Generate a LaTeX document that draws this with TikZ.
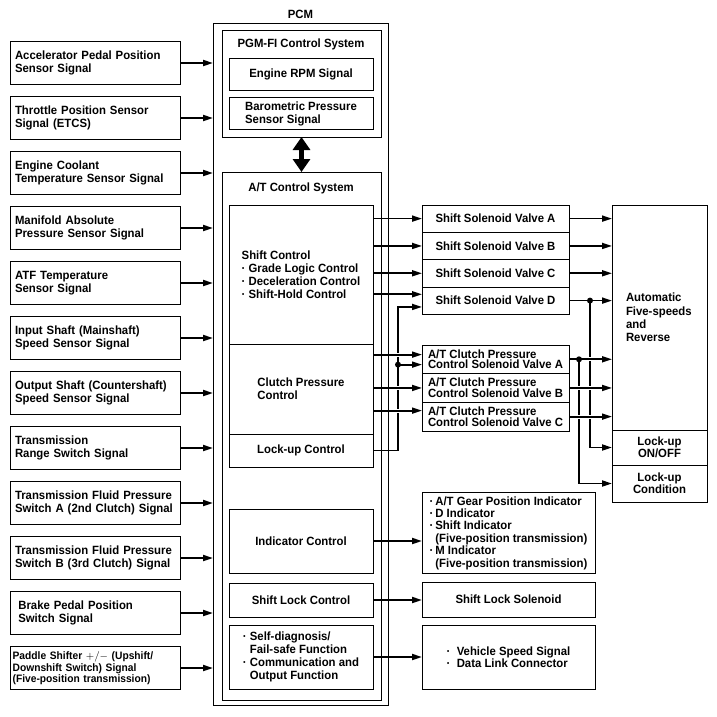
\documentclass[tikz,border=0pt]{standalone}
\usepackage{fontspec}
\setmainfont{Liberation Sans}[FakeStretch=0.95]
\usepackage{tikz}
\usetikzlibrary{arrows.meta, positioning}
\tikzset{
	sensor/.style={
		rectangle,
		minimum width=51mm,
		minimum height=12.9mm,
		text width=48mm,
		inner xsep=1.5mm,
		align=left,
		draw=black,
		line width=0.6pt,
		outer sep=0pt,
		font=\bfseries\fontsize{10.2}{11.2}\selectfont
	},
	housing/.style={
		rectangle,
		draw=black,
		line width=0.6pt,
		outer sep=0pt
	},
	block/.style={
		rectangle,
		minimum width=43.2mm,
		align=left,
		draw=black,
		line width=0.6pt,
		outer sep=0pt,
		font=\bfseries\fontsize{10.2}{11.2}\selectfont
	},
	valve/.style={
		rectangle,
		minimum width=44.1mm,
		inner ysep=0.3mm,
		align=left,
		draw=black,
		line width=0.6pt,
		outer sep=0pt,
		font=\bfseries\fontsize{10.2}{9.2}\selectfont
	},
	panel/.style={
		rectangle,
		minimum width=28.5mm,
		align=center,
		draw=black,
		line width=0.6pt,
		outer sep=0pt,
		font=\bfseries\fontsize{10.2}{10.5}\selectfont
	},
	result/.style={
		rectangle,
		minimum width=51.9mm,
		align=left,
		draw=black,
		line width=0.6pt,
		outer sep=0pt,
		font=\bfseries\fontsize{10.2}{10.6}\selectfont
	},
	heading/.style={font=\bfseries\fontsize{10.2}{11}\selectfont},
	arrow/.style={line width=1.5pt,-{Triangle[length=3mm,width=1.8mm]}},
	bothway/.style={line width=3.6pt,{Triangle[length=3.9mm,width=5.1mm]}-{Triangle[length=3.9mm,width=5.1mm]}},
	hop/.style={preaction={draw=white,line width=3.5pt,-,shorten <=#1,shorten >=2mm}},
	dot/.style={circle,fill=black,inner sep=0pt,minimum size=1.8mm}
}

\begin{document}
\begin{tikzpicture}[x=0.3mm,y=-0.3mm]
	\useasboundingbox (0,0) rectangle (717,717);

	% inputs
	\node (in1) [sensor] at (95,63) {Accelerator Pedal Position\\Sensor Signal};
	\node (in2) [sensor, below=3.6mm of in1] {Throttle Position Sensor\\Signal (ETCS)};
	\node (in3) [sensor, below=3.6mm of in2] {Engine Coolant\\Temperature Sensor Signal};
	\node (in4) [sensor, below=3.6mm of in3] {Manifold Absolute\\Pressure Sensor Signal};
	\node (in5) [sensor, below=3.6mm of in4] {ATF Temperature\\Sensor Signal};
	\node (in6) [sensor, below=3.6mm of in5] {Input Shaft (Mainshaft)\\Speed Sensor Signal};
	\node (in7) [sensor, below=3.6mm of in6] {Output Shaft (Countershaft)\\Speed Sensor Signal};
	\node (in8) [sensor, below=3.6mm of in7] {Transmission\\Range Switch Signal};
	\node (in9) [sensor, below=3.6mm of in8] {Transmission Fluid Pressure\\Switch A (2nd Clutch) Signal};
	\node (in10) [sensor, below=3.6mm of in9] {Transmission Fluid Pressure\\Switch B (3rd Clutch) Signal};
	\node (in11) [sensor, below=3.6mm of in10] {\hspace*{1mm}Brake Pedal Position\\\hspace*{1mm}Switch Signal};
	\node (in12) [sensor, below=3.6mm of in11, inner xsep=0.8mm, text width=49.4mm, font=\bfseries\fontsize{9.2}{8.4}\selectfont] {Paddle Shifter {\normalfont $+/-$} (Upshift/\\Downshift Switch) Signal\\(Five-position transmission)};

	% PCM
	\node (pcm) [housing, minimum width=52.5mm, minimum height=204.6mm, label={[heading]above:PCM}] at (300.5,364) {};
	\node (pgmfi) [housing, minimum width=47.7mm, minimum height=32.1mm] at (301.5,83.5) {};
	\node (pgmtitle) [heading] at (301,44) {PGM-FI Control System};
	\node (rpm) [block, minimum height=9.6mm] at (301,74) {Engine RPM Signal};
	\node (baro) [block, minimum height=9.3mm] at (301,113.5) {Barometric Pressure\\Sensor Signal};
	\node (atcs) [housing, minimum width=47.7mm, minimum height=158.4mm] at (301.5,436) {};
	\node (attitle) [heading] at (301,188) {A/T Control System};
	\node (shiftctl) [block, minimum height=41.7mm] at (301,274.5) {Shift Control\\· Grade Logic Control\\· Deceleration Control\\· Shift-Hold Control};
	\node (clutchctl) [block, minimum height=27mm, below=0pt of shiftctl] {Clutch Pressure\\Control};
	\node (lockup) [block, minimum height=9.9mm, below=0pt of clutchctl] {Lock-up Control};
	\node (indctl) [block, minimum height=19.2mm] at (301,541) {Indicator Control};
	\node (slctl) [block, minimum height=10.2mm] at (301,600) {Shift Lock Control};
	\node (diag) [block, minimum height=19.2mm] at (301,657) {· Self-diagnosis/\\\phantom{· }Fail-safe Function\\· Communication and\\\phantom{· }Output Function};

	% solenoids
	\node (ssa) [valve, minimum height=8.2mm] at (495.5,218.6) {Shift Solenoid Valve A};
	\node (ssb) [valve, minimum height=8.2mm, below=0pt of ssa] {Shift Solenoid Valve B};
	\node (ssc) [valve, minimum height=8.2mm, below=0pt of ssb] {Shift Solenoid Valve C};
	\node (ssd) [valve, minimum height=8.2mm, below=0pt of ssc] {Shift Solenoid Valve D};
	\node (cva) [valve, minimum height=8.6mm] at (495.5,359.3) {A/T Clutch Pressure\\Control Solenoid Valve A};
	\node (cvb) [valve, minimum height=8.6mm, below=0pt of cva] {A/T Clutch Pressure\\Control Solenoid Valve B};
	\node (cvc) [valve, minimum height=8.6mm, below=0pt of cvb] {A/T Clutch Pressure\\Control Solenoid Valve C};

	% outputs
	\node (auto) [panel, minimum height=67.5mm, text width=22.5mm, inner xsep=3mm, align=left, font=\bfseries\fontsize{10.2}{11.3}\selectfont] at (659.5,317.5) {\hspace*{1.2mm}Automatic\\\hspace*{1.2mm}Five-speeds\\\hspace*{1.2mm}and\\\hspace*{1.2mm}Reverse};
	\node (lockonoff) [panel, minimum height=10.5mm, below=0pt of auto] {Lock-up\\ON/OFF};
	\node (lockcond) [panel, minimum height=11.1mm, below=0pt of lockonoff] {Lock-up\\Condition};
	\node (indlist) [result, minimum height=24mm] at (508.5,533) {·\,A/T Gear Position Indicator\\·\,D Indicator\\·\,Shift Indicator\\\phantom{·\,}(Five-position transmission)\\·\,M Indicator\\\phantom{·\,}(Five-position transmission)};
	\node (slsol) [result, minimum height=10.5mm] at (508.5,599.5) {Shift Lock Solenoid};
	\node (vss) [result, minimum height=19.2mm] at (508.5,657) {·\ \ Vehicle Speed Signal\\·\ \ Data Link Connector};

	% bus points
	\coordinate (lubus) at (398,0);
	\coordinate (rbusa) at (579,0);
	\coordinate (rbusb) at (590,0);
	\coordinate (ssdhi) at ([yshift=1.9mm]ssd.west);
	\coordinate (ssdlo) at ([yshift=-1.9mm]ssd.west);
	\coordinate (cvahi) at ([yshift=1.4mm]cva.west);
	\coordinate (cvalo) at ([yshift=-1.6mm]cva.west);
	\coordinate (cvchi) at ([yshift=1.8mm]cvc.west);

	% inputs to PCM
	\draw [arrow] (in1.east) -- (in1.east -| pcm.west);
	\draw [arrow] (in2.east) -- (in2.east -| pcm.west);
	\draw [arrow] (in3.east) -- (in3.east -| pcm.west);
	\draw [arrow] (in4.east) -- (in4.east -| pcm.west);
	\draw [arrow] (in5.east) -- (in5.east -| pcm.west);
	\draw [arrow] (in6.east) -- (in6.east -| pcm.west);
	\draw [arrow] (in7.east) -- (in7.east -| pcm.west);
	\draw [arrow] (in8.east) -- (in8.east -| pcm.west);
	\draw [arrow] (in9.east) -- (in9.east -| pcm.west);
	\draw [arrow] (in10.east) -- (in10.east -| pcm.west);
	\draw [arrow] (in11.east) -- (in11.east -| pcm.west);
	\draw [arrow] (in12.east) -- (in12.east -| pcm.west);

	\draw [bothway] (pgmfi.south) -- (atcs.north);

	% lock-up and bus lines first
	\draw [arrow] (lockup.east) -- (lockup.east -| lubus) |- (ssdlo);
	\draw [arrow] (ssd.east -| rbusb) |- (lockonoff.west);
	\draw [arrow] (cva.east -| rbusa) |- (lockcond.west);

	% shift control
	\draw [arrow] (shiftctl.east |- ssa.west) -- (ssa.west);
	\draw [arrow] (shiftctl.east |- ssb.west) -- (ssb.west);
	\draw [arrow] (shiftctl.east |- ssc.west) -- (ssc.west);
	\draw [arrow] (shiftctl.east |- ssdhi) -- (ssdhi);

	% clutch pressure control
	\draw [arrow, hop=6mm] (clutchctl.east |- cvahi) -- (cvahi);
	\draw [arrow, hop=6mm] (clutchctl.east |- cvb.west) -- (cvb.west);
	\draw [arrow, hop=6mm] (clutchctl.east |- cvchi) -- (cvchi);
	\draw [arrow] (lubus |- cvalo) -- (cvalo);

	% to transmission
	\draw [arrow] (ssa.east) -- (ssa.east -| auto.west);
	\draw [arrow] (ssb.east) -- (ssb.east -| auto.west);
	\draw [arrow] (ssc.east) -- (ssc.east -| auto.west);
	\draw [arrow] (ssd.east) -- (ssd.east -| auto.west);
	\draw [arrow, hop=1mm] (cva.east) -- (cva.east -| auto.west);
	\draw [arrow, hop=1mm] (cvb.east) -- (cvb.east -| auto.west);
	\draw [arrow, hop=1mm] (cvc.east) -- (cvc.east -| auto.west);

	% lower outputs
	\draw [arrow] (indctl.east) -- (indctl.east -| indlist.west);
	\draw [arrow] (slctl.east) -- (slctl.east -| slsol.west);
	\draw [arrow] (diag.east) -- (diag.east -| vss.west);

	% junctions
	\node (ludot) [dot] at (lubus |- cvalo) {};
	\node (ssddot) [dot] at (ssd.east -| rbusb) {};
	\node (cvadot) [dot] at (cva.east -| rbusa) {};
\end{tikzpicture}
\end{document}
